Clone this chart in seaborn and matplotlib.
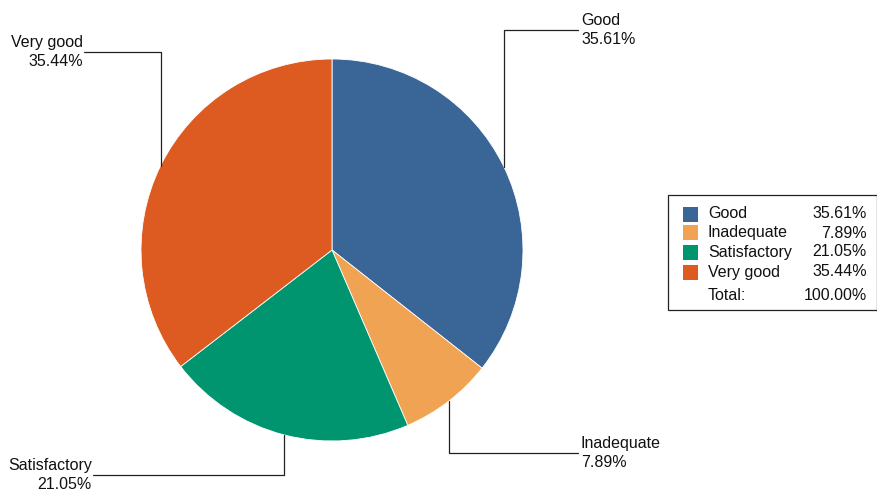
import numpy as np
import matplotlib
matplotlib.use("Agg")
import matplotlib.pyplot as plt
from matplotlib.patches import Rectangle
import seaborn as sns

categories = ["Good", "Inadequate", "Satisfactory", "Very good"]
shares = [35.61, 7.89, 21.05, 35.44]
total_share = 100.00
colors = ["#3a6597", "#f0a352", "#00946f", "#dd5a20"]

W, H = 878, 492
FS = 11.5


def Y(y):
    # pixel row (from top) -> data y
    return H - y


def main():
    sns.set_theme(style="white")
    plt.rcParams["font.family"] = ["Liberation Sans", "DejaVu Sans"]

    fig = plt.figure(figsize=(W / 100, H / 100), dpi=100)
    ax = fig.add_axes([0, 0, 1, 1])

    cx, cy, r = 332, Y(250), 191
    wedges, _ = ax.pie(shares, colors=colors, startangle=90, counterclock=False,
                       center=(cx, cy), radius=r, frame=True,
                       wedgeprops=dict(edgecolor="white", linewidth=0.6))
    ax.set_xlim(0, W)
    ax.set_ylim(0, H)
    ax.axis("off")

    # label placement: (x of text, y row of elbow, side)
    spots = [(581, 30, "left"), (581, 453, "left"), (92, 475, "right"), (83, 52, "right")]
    for w, name, val, (tx, ty, side) in zip(wedges, categories, shares, spots):
        ang = np.deg2rad((w.theta1 + w.theta2) / 2)
        ax_x = cx + r * np.cos(ang)
        ax_y = cy + r * np.sin(ang)
        lx = tx - 3 if side == "left" else tx + 1
        ax.plot([ax_x, ax_x, lx], [ax_y, Y(ty), Y(ty)], color="#222222", lw=0.9)
        ax.text(tx, Y(ty), f"{name}\n{val:.2f}%", ha=side, va="center",
                multialignment=side, fontsize=FS, linespacing=1.35, color="#111111")

    # legend box
    ax.add_patch(Rectangle((668, Y(310)), 209, 115, fill=False, edgecolor="#222222", lw=0.9))
    rows = [214, 233, 252, 272]
    for name, val, col, ry in zip(categories, shares, colors, rows):
        ax.add_patch(Rectangle((683, Y(ry) - 7.5), 15, 15, facecolor=col, edgecolor="none"))
        ax.text(708, Y(ry), name, ha="left", va="center", fontsize=FS, color="#111111")
        ax.text(867, Y(ry), f"{val:.2f}%", ha="right", va="center", fontsize=FS, color="#111111")
    ax.text(708, Y(296), "Total:", ha="left", va="center", fontsize=FS, color="#111111")
    ax.text(867, Y(296), f"{total_share:.2f}%", ha="right", va="center", fontsize=FS,
            color="#111111")

    fig.savefig("out.png", dpi=100, facecolor="white")


main()
